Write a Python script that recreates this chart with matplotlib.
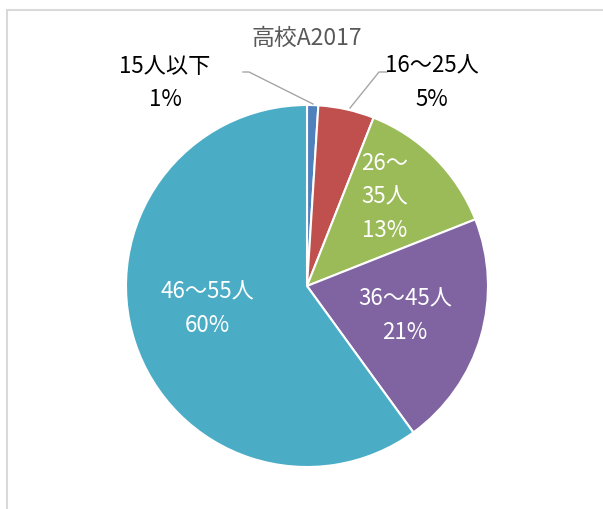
import matplotlib.pyplot as plt
from matplotlib.patches import Rectangle

plt.rcParams['font.family'] = ['Noto Sans CJK JP', 'DejaVu Sans']

# data
title = "高校A2017"
labels = ["15人以下", "16〜25人", "26〜\n35人", "36〜45人", "46〜55人"]
values = [1, 5, 13, 21, 60]
colors = ["#4F81BD", "#C0504D", "#9BBB59", "#8064A2", "#4BACC6"]

W, H = 603, 509
fig = plt.figure(figsize=(W / 100, H / 100), dpi=100)
ax = fig.add_axes([0, 0, 1, 1])

# pie in pixel-like coordinates (y up)
cx, cy, r = 307, H - 286, 181
wedges, _ = ax.pie(values, colors=colors, startangle=90, counterclock=False,
                   center=(cx, cy), radius=r,
                   wedgeprops=dict(edgecolor="white", linewidth=1.5))
ax.set_xlim(0, W)
ax.set_ylim(0, H)
ax.set_aspect("equal")
ax.axis("off")

# chart area border (runs off the right and bottom edges)
ax.add_patch(Rectangle((7, -10), W + 20, H, fill=False,
                       edgecolor="#D9D9D9", linewidth=1.5, clip_on=False))

ax.text(307, H - 38, title, ha="center", va="center", fontsize=16.5, color="#595959")

# label positions (pixel coords from top)
pos = [(165, 83), (432, 83), (385, 197), (405, 316), (207, 309)]
inside = [False, False, True, True, True]
for lab, v, (x, y), ins in zip(labels, values, pos, inside):
    ax.text(x, H - y, f"{lab}\n{v}%", ha="center", va="center", fontsize=16,
            color="white" if ins else "black", linespacing=1.6)

# leader lines for outside labels
ax.plot([243, 249, 313], [H - 72, H - 72, H - 104], color="#A6A6A6", lw=1)
ax.plot([387, 379, 350], [H - 72, H - 72, H - 108], color="#A6A6A6", lw=1)

fig.savefig("out.png", dpi=100)
